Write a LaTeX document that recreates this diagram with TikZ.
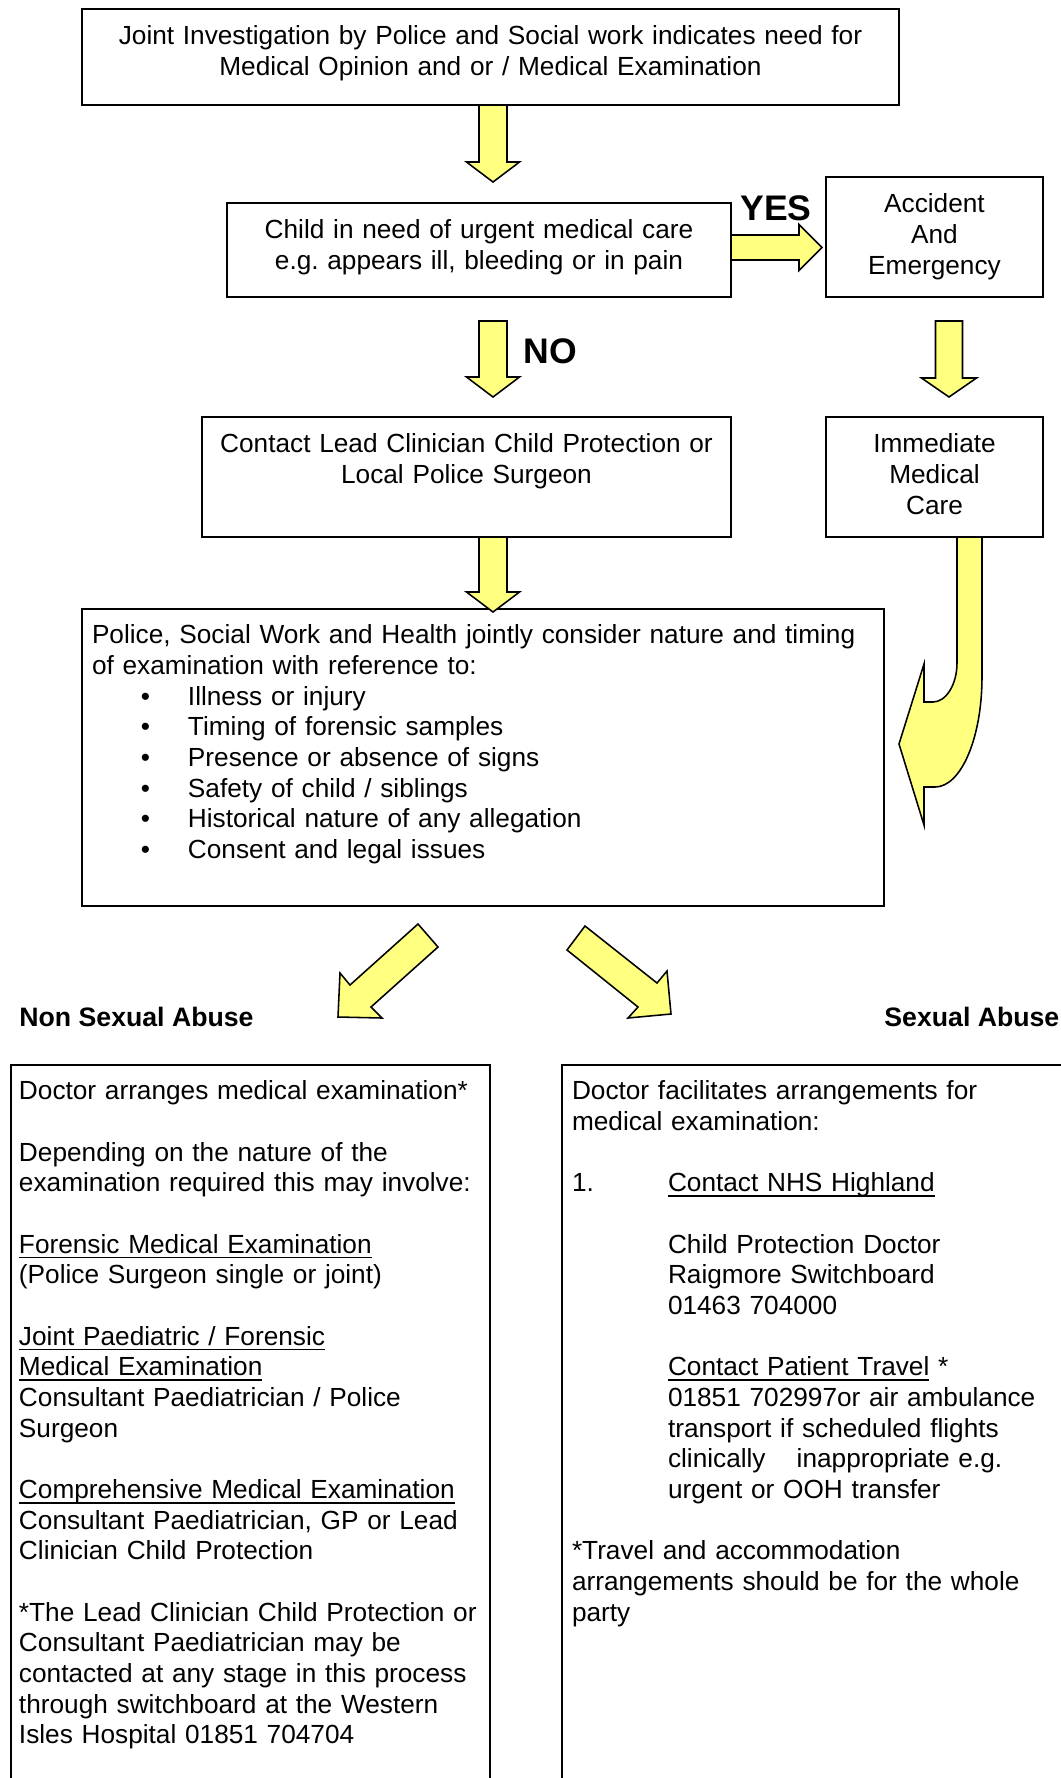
\documentclass[tikz,border=0pt]{standalone}
\usepackage{fontspec}
\setmainfont{Liberation Sans}
\frenchspacing
\definecolor{arrowyellow}{RGB}{255,255,128}
% underline drawn close to the baseline, crossing descenders
\newcommand\ulin[1]{\leavevmode\setbox0\hbox{#1}\rlap{\rule[-2.2pt]{\wd0}{0.7pt}}\box0\relax}
% vertical block arrow: x, top, start of head, tip, shaft half width, head half width
\newcommand\blockdown[6]{%
  \draw[blockarrow] (#1-#5,#2) -- (#1+#5,#2) -- (#1+#5,#3) -- (#1+#6,#3) -- (#1,#4)
    -- (#1-#6,#3) -- (#1-#5,#3) -- cycle;}
% horizontal block arrow: y, tail, start of head, tip, shaft half width, head half width
\newcommand\blockright[6]{%
  \draw[blockarrow] (#2,#1-#5) -- (#3,#1-#5) -- (#3,#1-#6) -- (#4,#1) -- (#3,#1+#6)
    -- (#3,#1+#5) -- (#2,#1+#5) -- cycle;}
% framed box given by its corners
\newcommand\boxfrom[5]{%
  \node[frame, anchor=north west, minimum width={0.45pt*(#4-#2)},
        minimum height={0.45pt*(#5-#3)}] (#1) at (#2,#3) {};}
\begin{document}
\begin{tikzpicture}[x=0.45pt, y=-0.45pt,
  frame/.style={draw=black, line width=0.9pt, inner sep=0pt, outer sep=0pt},
  openframe/.style={draw=black, line width=0.9pt},
  blockarrow/.style={draw=black, fill=arrowyellow, line width=0.7pt, line join=miter},
  body/.style={inner sep=0pt, outer sep=0pt, font=\fontsize{11.8}{13.8}\selectfont},
  ctext/.style={body, anchor=north, text width=360pt, align=center},
  ltext/.style={body, anchor=north west, text width=#1, align=left},
  answer/.style={inner sep=0pt, anchor=base west, font=\fontsize{16}{18}\selectfont\bfseries},
  heading/.style={inner sep=0pt, anchor=base west, font=\fontsize{12}{13.8}\selectfont\bfseries}]

\fill[white] (0,0) rectangle (1061,1778);
\useasboundingbox (0,0) rectangle (1061,1778);
\clip (0,0) rectangle (1061,1778);

% boxes of the flow
\boxfrom{start}{82}{9}{899}{105}
\boxfrom{urgent}{227}{203}{731}{297}
\boxfrom{ae}{826}{177}{1043}{297}
\boxfrom{contact}{202}{417}{731}{537}
\boxfrom{immediate}{826}{417}{1043}{537}
\boxfrom{consider}{82}{609}{884}{906}

% box texts
\node[ctext] (starttxt) at (490.5,23.5) {\strut Joint Investigation by Police and Social work indicates need for\\Medical Opinion and or / Medical Examination};
\node[ctext] (urgenttxt) at (479,217.5) {\strut Child in need of urgent medical care\\e.g. appears ill, bleeding or in pain};
\node[ctext] (aetxt) at (934.5,191.5) {\strut Accident\\And\\Emergency};
\node[ctext] (contacttxt) at (466.5,431.5) {\strut Contact Lead Clinician Child Protection or\\Local Police Surgeon};
\node[ctext] (immediatetxt) at (934.5,431.5) {\strut Immediate\\Medical\\Care};
\node[ltext=360pt] (considertxt) at (92,622.5) {\strut Police, Social Work and Health jointly consider nature and timing\\
of examination with reference to:\\
\hspace*{22pt}\makebox[21.2pt][l]{•}Illness or injury\\
\hspace*{22pt}\makebox[21.2pt][l]{•}Timing of forensic samples\\
\hspace*{22pt}\makebox[21.2pt][l]{•}Presence or absence of signs\\
\hspace*{22pt}\makebox[21.2pt][l]{•}Safety of child / siblings\\
\hspace*{22pt}\makebox[21.2pt][l]{•}Historical nature of any allegation\\
\hspace*{22pt}\makebox[21.2pt][l]{•}Consent and legal issues};

% answers on the decision
\node[answer] (yes) at (740,220) {YES};
\node[answer] (no) at (523,363) {NO};

% block arrows of the flow
\blockdown{493}{105}{162}{182}{14}{26.5}
\blockright{247.5}{731}{799}{822}{12.5}{23}
\blockdown{493}{321}{377}{397}{14}{26.5}
\blockdown{949}{321}{378}{397}{13.5}{27.5}
\blockdown{493}{537}{592}{612}{14}{26.5}

% curved arrow from immediate care back to the joint consideration
\draw[blockarrow] (982,537) -- (982,677)
  .. controls (982,738) and (961,787) .. (935,787)
  -- (924,787) -- (924,825) -- (899,744) -- (924,664) -- (924,702) -- (933,702)
  .. controls (946,702) and (957,684.5) .. (957,663)
  -- (957,537) -- cycle;

% the two branches
\draw[blockarrow] (418,924) -- (438,947) -- (371,1007) -- (382,1018) -- (338,1017)
  -- (340,973) -- (350,985) -- cycle;
\draw[blockarrow] (585,926) -- (657,983) -- (667,971) -- (671,1014) -- (628,1018)
  -- (638,1007) -- (567,950) -- cycle;

\node[heading] (nonsexual) at (19,1026) {Non Sexual Abuse};
\node[heading] (sexual) at (884,1026) {Sexual Abuse};

% lower boxes, running past the page
\draw[openframe] (11,1800) -- (11,1065) -- (490,1065) -- (490,1800);
\draw[openframe] (562,1800) -- (562,1065) -- (1080,1065);

\node[ltext=215pt] (nonsexualtxt) at (19,1078.5) {\strut Doctor arranges medical examination*\\[13.8pt]
Depending on the nature of the\\
examination required this may involve:\\[13.8pt]
\ulin{Forensic Medical Examination}\\
(Police Surgeon single or joint)\\[13.8pt]
\ulin{Joint Paediatric / Forensic}\\
\ulin{Medical Examination}\\
Consultant Paediatrician / Police\\
Surgeon\\[13.8pt]
\ulin{Comprehensive Medical Examination}\\
Consultant Paediatrician, GP or Lead\\
Clinician Child Protection\\[13.8pt]
*The Lead Clinician Child Protection or\\
Consultant Paediatrician may be\\
contacted at any stage in this process\\
through switchboard at the Western\\
Isles Hospital 01851 704704};

\node[ltext=220pt] (sexualtxt) at (572,1078.5) {\strut Doctor facilitates arrangements for\\
medical examination:\\[13.8pt]
\makebox[43.2pt][l]{1.}\ulin{Contact NHS Highland}\\[13.8pt]
\hspace*{43.2pt}Child Protection Doctor\\
\hspace*{43.2pt}Raigmore Switchboard\\
\hspace*{43.2pt}01463 704000\\[13.8pt]
\hspace*{43.2pt}\ulin{Contact Patient Travel} *\\
\hspace*{43.2pt}01851 702997or air ambulance\\
\hspace*{43.2pt}transport if scheduled flights\\
\hspace*{43.2pt}clinically\hspace{14pt}inappropriate e.g.\\
\hspace*{43.2pt}urgent or OOH transfer\\[13.8pt]
*Travel and accommodation\\
arrangements should be for the whole\\
party};
\end{tikzpicture}
\end{document}
